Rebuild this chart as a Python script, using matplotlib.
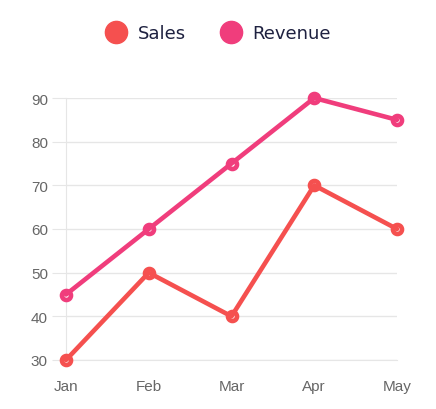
import matplotlib
matplotlib.use("Agg")
import matplotlib.pyplot as plt
from matplotlib.lines import Line2D

months = ["Jan", "Feb", "Mar", "Apr", "May"]
sales = [30, 50, 40, 70, 60]
revenue = [45, 60, 75, 90, 85]
yticks = [30, 40, 50, 60, 70, 80, 90]

sales_color = "#F5504F"
revenue_color = "#F03D7C"

W, H = 436, 410
fig = plt.figure(figsize=(W/100, H/100), dpi=100)
ax = fig.add_axes([66/W, 1-361/H, (397-66)/W, (361-99)/H])

x = list(range(len(months)))
for vals, c in [(revenue, revenue_color), (sales, sales_color)]:
    ax.plot(x, vals, color=c, lw=3.3, zorder=4, clip_on=False, solid_capstyle="round")
    ax.plot(x, vals, ls="none", marker="o", ms=6.5, mfc="white", mec=c, mew=3.3,
            zorder=3, clip_on=False)

ax.set_xlim(0, 4)
ax.set_ylim(30, 90)
ax.set_xticks(x)
ax.set_xticklabels(months, fontfamily="Liberation Sans")
ax.set_yticks(yticks)
ax.set_yticklabels([str(v) for v in yticks], fontfamily="Liberation Sans")
ax.grid(axis="y", color="#e6e6e6", lw=1)
ax.set_axisbelow(True)
for s in ["top", "right"]:
    ax.spines[s].set_visible(False)
ax.spines["left"].set_color("#e6e6e6")
ax.spines["bottom"].set_color("#e6e6e6")
ax.tick_params(axis="y", length=10, color="#e6e6e6", labelcolor="#666666", labelsize=11, pad=3)
ax.tick_params(axis="x", length=0, labelcolor="#666666", labelsize=11, pad=14)

handles = [Line2D([], [], ls="none", marker="o", ms=16, mfc=sales_color, mec=sales_color),
           Line2D([], [], ls="none", marker="o", ms=16, mfc=revenue_color, mec=revenue_color)]
leg = fig.legend(handles, ["Sales", "Revenue"], loc="center", bbox_to_anchor=(218/W, 1-34/H),
                 ncol=2, frameon=False, fontsize=13, handletextpad=0.6, columnspacing=1.9,
                 handlelength=1.2)
for t in leg.get_texts():
    t.set_color("#1e2140")

fig.savefig("out.png", dpi=100)
